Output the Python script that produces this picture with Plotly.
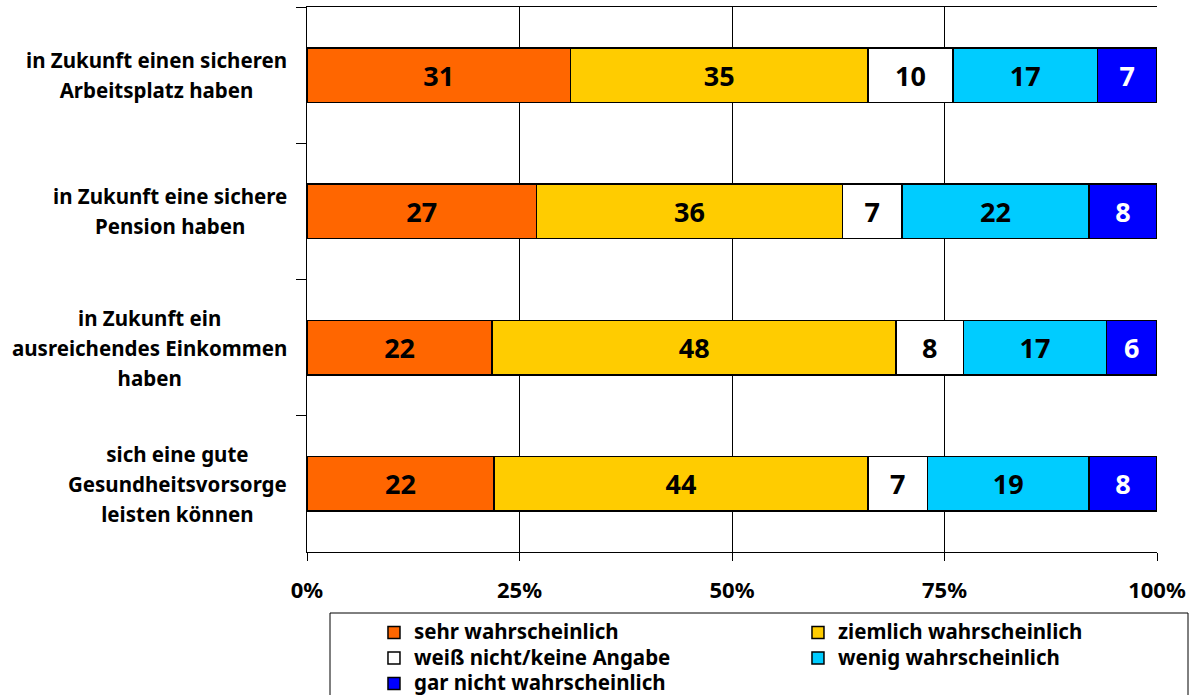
import plotly.graph_objects as go

categories = [
    "in Zukunft einen sicheren<br>Arbeitsplatz haben",
    "in Zukunft eine sichere<br>Pension haben",
    "in Zukunft ein<br>ausreichendes Einkommen<br>haben",
    "sich eine gute<br>Gesundheitsvorsorge<br>leisten können",
]
cat_keys = ["A", "B", "C", "D"]
series_names = [
    "sehr wahrscheinlich",
    "ziemlich wahrscheinlich",
    "weiß nicht/keine Angabe",
    "wenig wahrscheinlich",
    "gar nicht wahrscheinlich",
]
sehr = [31, 27, 22, 22]
ziemlich = [35, 36, 48, 44]
weiss = [10, 7, 8, 7]
wenig = [17, 22, 17, 19]
gar = [7, 8, 6, 8]
series_values = [sehr, ziemlich, weiss, wenig, gar]
colors = ["#FF6600", "#FFCC00", "#FFFFFF", "#00CCFF", "#0000FF"]
text_colors = ["black", "black", "black", "black", "white"]
tick_vals = [0, 25, 50, 75, 100]
tick_text = ["0%", "25%", "50%", "75%", "100%"]

FONT = "Noto Sans"


def sized(label, px):
    parts = label.split("<br>")
    return "<br>".join("<span style='font-size:%spx'>%s</span>" % (px, p) for p in parts)


fig = go.Figure()
for name, vals, col, tcol in zip(series_names, series_values, colors, text_colors):
    fig.add_trace(go.Bar(
        y=cat_keys, x=vals, name=sized(name, 20.5), orientation="h",
        marker=dict(color=col, line=dict(color="black", width=1.5)),
        text=[str(v) for v in vals], textposition="inside",
        insidetextanchor="middle", textangle=0, constraintext="none",
        textfont=dict(family="Open Sans", size=27, color=tcol, weight="bold"),
        width=0.4,
    ))

annotations = []
for key, label in zip(cat_keys, categories):
    annotations.append(dict(
        x=0, xref="paper", y=key, yref="y", xanchor="right", yanchor="middle",
        xshift=-18, align="center", showarrow=False,
        text=sized(label, 20.5),
        font=dict(family=FONT, size=23, color="black", weight="bold"),
    ))

fig.update_layout(
    width=1199, height=695,
    margin=dict(l=307, r=42, t=7, b=143, autoexpand=False),
    barmode="stack", barnorm="percent",
    paper_bgcolor="white", plot_bgcolor="white",
    showlegend=True,
    legend=dict(
        orientation="h", x=0.0788, xanchor="left", y=-0.115, yanchor="top",
        entrywidth=379, entrywidthmode="pixels",
        font=dict(family=FONT, size=17.3, color="black", weight="bold"),
        bgcolor="rgba(0,0,0,0)", borderwidth=0, traceorder="normal",
    ),
    annotations=annotations,
    shapes=[dict(type="rect", xref="paper", yref="paper",
                 x0=(330 - 307) / 850, x1=(1188 - 307) / 850,
                 y0=(552 - 613) / 545, y1=(552 - 705) / 545,
                 line=dict(color="black", width=1), fillcolor="rgba(0,0,0,0)", layer="above")],
    xaxis=dict(
        range=[0, 100], tickvals=tick_vals, ticktext=tick_text,
        showgrid=True, gridcolor="black", gridwidth=1, zeroline=False,
        showline=True, linecolor="black", linewidth=1, mirror=True,
        ticks="outside", ticklen=8, tickcolor="black", ticklabelstandoff=11,
        tickfont=dict(family=FONT, size=22, color="black", weight="bold"),
        fixedrange=True,
    ),
    yaxis=dict(
        categoryorder="array", categoryarray=cat_keys, autorange="reversed",
        showticklabels=False, showgrid=False, zeroline=False,
        showline=True, linecolor="black", linewidth=1,
        ticks="outside", tickson="boundaries", ticklen=10, tickcolor="black",
        fixedrange=True,
    ),
)

fig.write_html("out.html", config={"displayModeBar": False},
               post_script="document.body.style.margin='0px';")
